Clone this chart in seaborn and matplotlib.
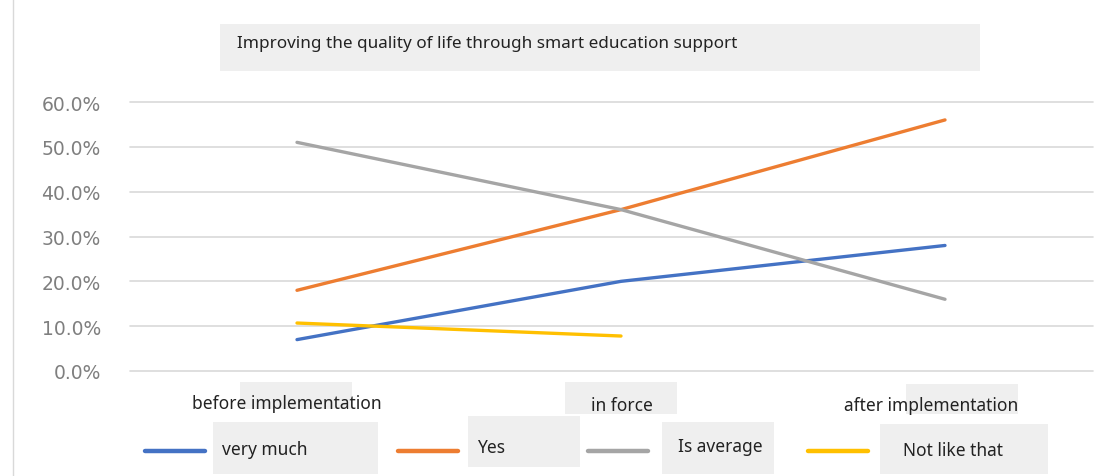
import matplotlib
matplotlib.use("Agg")
import matplotlib.pyplot as plt
import seaborn as sns
import pandas as pd
import numpy as np
from matplotlib.patches import Rectangle
from matplotlib.lines import Line2D
from matplotlib.ticker import PercentFormatter

# data
stages = ["before implementation", "in force", "after implementation"]
very_much = [0.07, 0.20, 0.28]
yes = [0.18, 0.36, 0.56]
is_average = [0.51, 0.36, 0.16]
not_like_that = [0.107, 0.078, np.nan]
series_names = ["very much", "Yes", "Is average", "Not like that"]
colors = ["#4472C4", "#ED7D31", "#A5A5A5", "#FFC000"]
title = "Improving the quality of life through smart education support"

rows = []
for name, vals in zip(series_names, [very_much, yes, is_average, not_like_that]):
    for st, v in zip(stages, vals):
        rows.append({"stage": st, "value": v, "series": name})
df = pd.DataFrame(rows).dropna()

sns.set_style("white")
plt.rcParams["font.family"] = ["Noto Sans", "DejaVu Sans"]

W, H = 1101, 477
fig = plt.figure(figsize=(W / 100, H / 100), dpi=100)

def px(x, y):
    return x / W, 1 - y / H

# axes: x 130..1093 px, y 103 (60%) .. 372 (0%)
ax = fig.add_axes([130 / W, (H - 372) / H, (1093 - 130) / W, (372 - 103) / H])

palette = dict(zip(series_names, colors))
sns.lineplot(data=df, x="stage", y="value", hue="series", hue_order=series_names,
             palette=palette, linewidth=2.4, legend=False, ax=ax, sort=False)

ax.set_xlim(-167 / 324, 2 + 148 / 324)
ax.set_ylim(0, 0.6)
ax.set_yticks(np.arange(0, 0.61, 0.1))
ax.yaxis.set_major_formatter(PercentFormatter(1.0, decimals=1))
ax.tick_params(axis="y", length=0, pad=21, labelsize=13.5, labelcolor="#7f7f7f")
for lab in ax.get_yticklabels():
    lab.set_family("DejaVu Sans")
ax.set_xticks([])
ax.set_xlabel("")
ax.set_ylabel("")
for s in ax.spines.values():
    s.set_visible(False)
ax.grid(axis="y", color="#d9d9d9", linewidth=1.2)
for gl in ax.get_ygridlines():
    gl.set_clip_on(False)
ax.set_axisbelow(True)

box_color = "#efefef"
def gbox(x0, y0, x1, y1):
    fig.patches.append(Rectangle((x0 / W, 1 - y1 / H), (x1 - x0) / W, (y1 - y0) / H,
                                 transform=fig.transFigure, facecolor=box_color,
                                 edgecolor="none", zorder=0))

# title box
gbox(220, 25, 980, 72)
fig.text(*px(237, 44), title, fontsize=12.3, va="center", ha="left", color="#222222")

# left border line
fig.add_artist(Line2D([13 / W, 13 / W], [0, 1], color="#d9d9d9", linewidth=1))

# category labels with boxes
gbox(240, 383, 352, 410)
gbox(565, 383, 677, 415)
gbox(906, 385, 1018, 415)
cat_pos = [(287, 404), (622, 406), (931, 406)]
for st, (x, y) in zip(stages, cat_pos):
    fig.text(*px(x, y), st, fontsize=12.5, ha="center", va="center", color="#222222")

# legend
gbox(213, 423, 378, 475)
gbox(468, 417, 580, 468)
gbox(662, 423, 774, 475)
gbox(880, 425, 1048, 475)
leg_line_x = [145, 398, 588, 808]
leg_text = [(222, 450), (477, 448), (678, 447), (903, 451)]
for name, c, lx, (tx, ty) in zip(series_names, colors, leg_line_x, leg_text):
    fig.add_artist(Line2D([lx / W, (lx + 60) / W], [1 - 452 / H] * 2, color=c,
                          linewidth=3.2, solid_capstyle="round"))
    fig.text(*px(tx, ty), name, fontsize=12.5, ha="left", va="center", color="#222222")

fig.savefig("out.png", dpi=100)
